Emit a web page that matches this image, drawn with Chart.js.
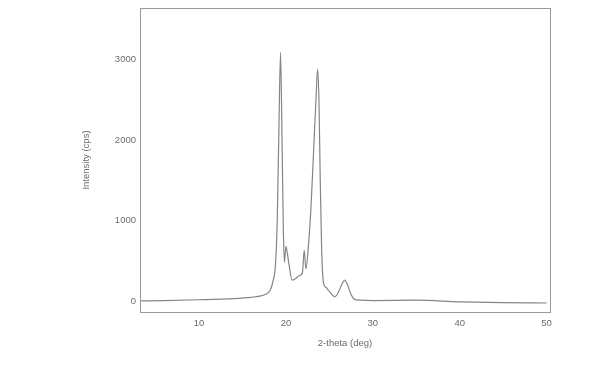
<!DOCTYPE html>
<html>
<head>
<meta charset="utf-8">
<script src="https://cdn.jsdelivr.net/npm/chart.js@4"></script>
<style>
  html, body { margin: 0; padding: 0; background: #fff; }
  #wrap { width: 591px; height: 381px; }
</style>
</head>
<body>
<div id="wrap"><canvas id="xrd"></canvas></div>
<script>
// 2-theta (deg) and intensity (cps)
const twoTheta = [3, 6, 10, 14, 16, 17, 17.6, 18.2, 18.5, 18.8, 19.0, 19.2, 19.38, 19.55, 19.7, 19.82,
  20.0, 20.15, 20.4, 20.7, 21.0, 21.5, 21.9, 22.1, 22.3, 22.6, 22.9, 23.2, 23.5, 23.64, 23.8, 23.95,
  24.1, 24.3, 24.6, 24.9, 25.3, 25.6, 26.0, 26.5, 26.75, 27.1, 27.5, 27.9, 28.5, 30, 35, 40, 45, 50];
const intensity = [0, 5, 15, 30, 45, 60, 80, 135, 240, 460, 1000, 2200, 3090, 2000, 900, 480,
  680, 600, 420, 260, 270, 310, 350, 630, 400, 700, 1200, 1900, 2600, 2880, 2500, 1500,
  700, 240, 170, 130, 80, 50, 100, 220, 260, 200, 80, 20, 10, 5, 10, -10, -20, -25];
const xTicks = [10, 20, 30, 40, 50];
const yTicks = [0, 1000, 2000, 3000];

const ink = '#6a6a6a';
const font = { family: '"Liberation Sans", Arial, sans-serif', size: 9.5 };

const frame = {
  id: 'frame',
  afterDraw(chart) {
    const { ctx, chartArea: a } = chart;
    ctx.save();
    ctx.strokeStyle = '#9a9a9a';
    ctx.lineWidth = 1;
    ctx.strokeRect(a.left + 0.5, a.top + 0.5, a.right - a.left, a.bottom - a.top);
    ctx.restore();
  }
};

new Chart(document.getElementById('xrd'), {
  type: 'line',
  data: {
    datasets: [{
      data: twoTheta.map((x, i) => ({ x: x, y: intensity[i] })),
      borderColor: '#858585',
      borderWidth: 1.2,
      pointRadius: 0,
      cubicInterpolationMode: 'monotone',
      fill: false
    }]
  },
  options: {
    responsive: true,
    maintainAspectRatio: false,
    animation: false,
    layout: { padding: { left: 0, right: 41, top: 8, bottom: 0 } },
    plugins: { legend: { display: false }, tooltip: { enabled: false } },
    scales: {
      x: {
        type: 'linear',
        min: 3.2,
        max: 50.4,
        afterBuildTicks: s => { s.ticks = xTicks.map(v => ({ value: v })); },
        afterFit: s => { s.height = 69; },
        grid: { display: false, drawTicks: true, tickLength: 5, tickColor: '#9a9a9a' },
        border: { display: true, color: '#9a9a9a' },
        ticks: { color: ink, font: font, padding: 1, maxRotation: 0, callback: v => String(v) },
        title: { display: true, text: '2-theta (deg)', color: ink, font: font, padding: { top: 0, bottom: 32 } }
      },
      y: {
        min: -137,
        max: 3640,
        afterBuildTicks: s => { s.ticks = yTicks.map(v => ({ value: v })); },
        afterFit: s => { s.width = 140; },
        grid: { display: false, drawTicks: true, tickLength: 4, tickColor: '#9a9a9a' },
        border: { display: true, color: '#9a9a9a' },
        ticks: { color: ink, font: font, padding: 0, callback: v => String(v) },
        title: { display: true, text: 'Intensity (cps)', color: ink, font: font, padding: { top: 81, bottom: 0 } }
      }
    }
  },
  plugins: [frame]
});
</script>
</body>
</html>
